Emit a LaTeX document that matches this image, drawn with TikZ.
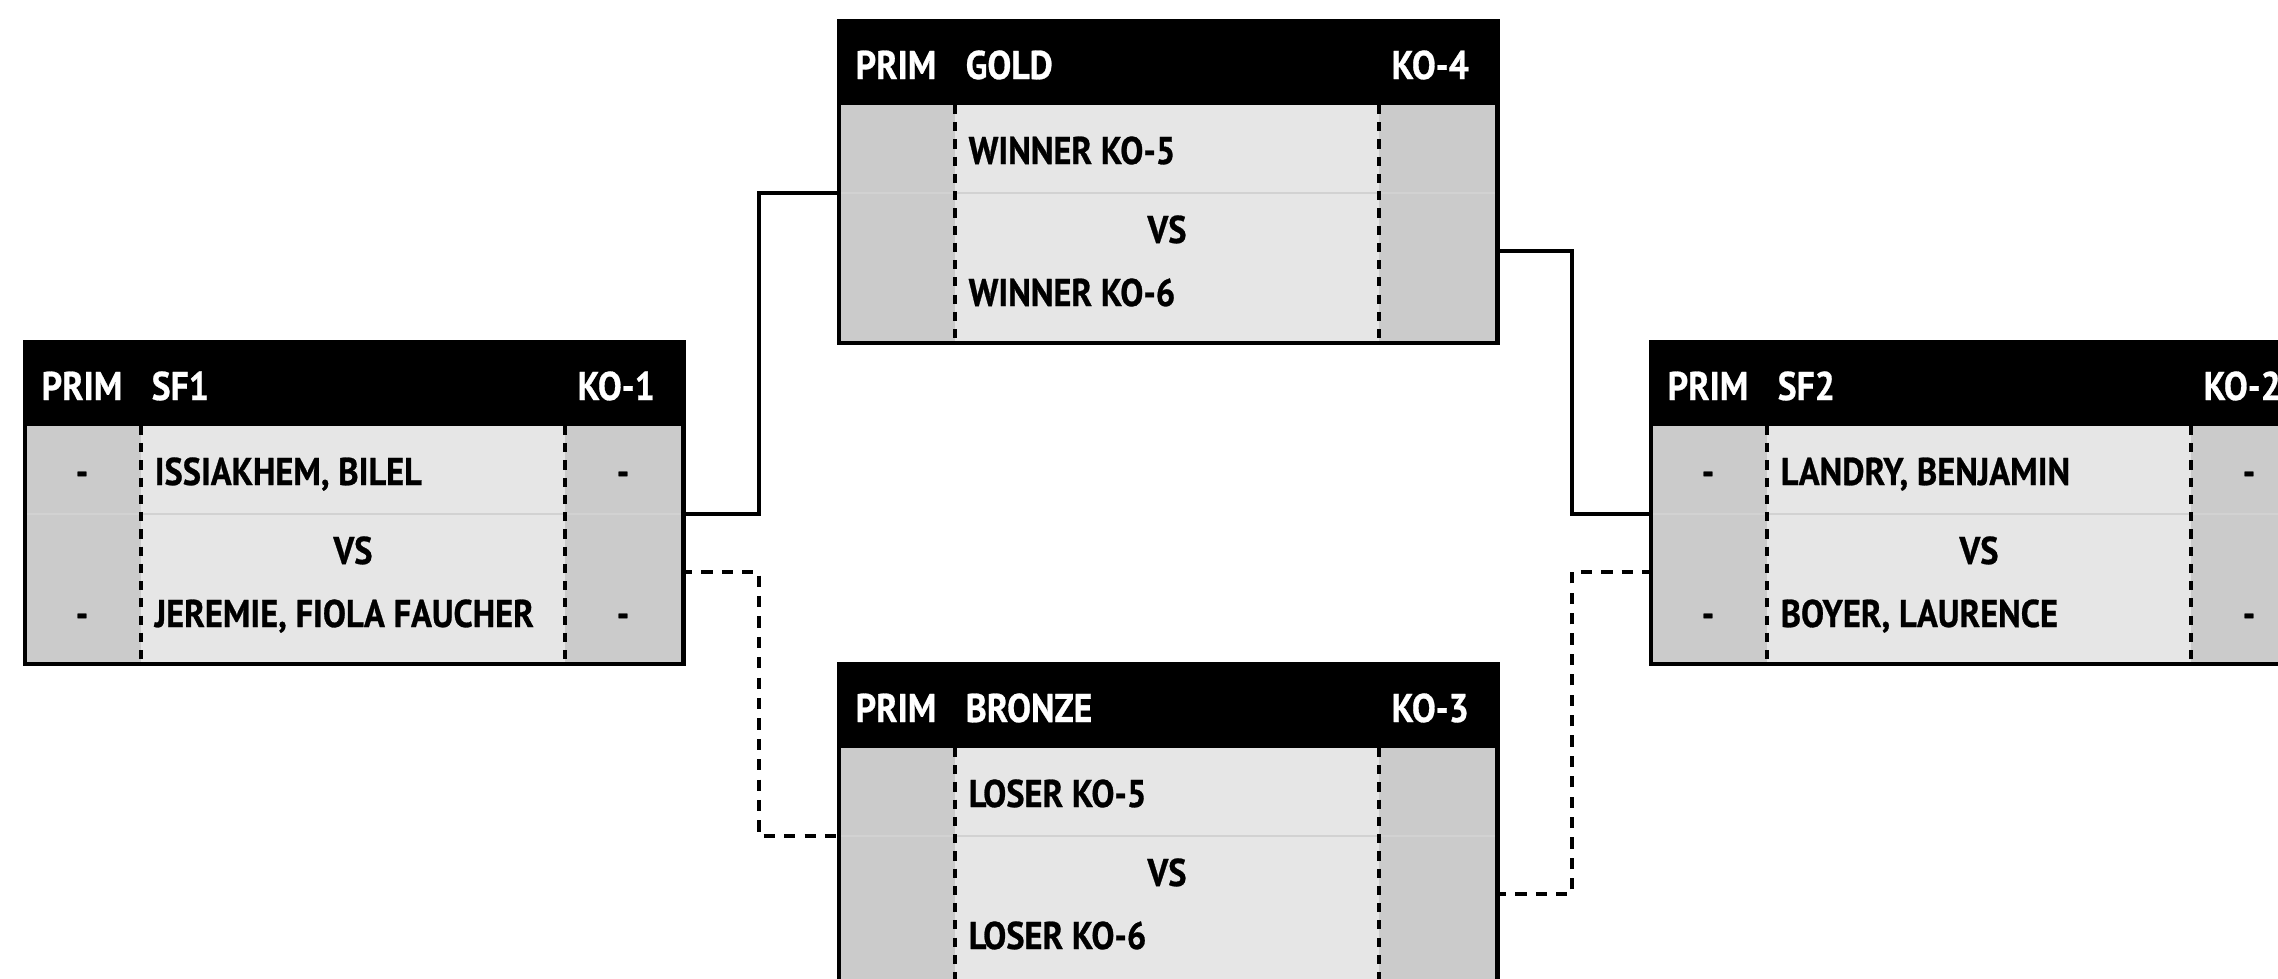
\documentclass[tikz,border=0pt]{standalone}
\usepackage{fontspec}
\setmainfont{PT Sans}[FakeStretch=0.89, BoldFeatures={FakeBold=0.7}]
\usetikzlibrary{calc}
\definecolor{colside}{HTML}{CBCBCB}
\definecolor{colmid}{HTML}{E6E6E6}
\definecolor{coldiv}{HTML}{D2D2D2}
\tikzset{
  boxframe/.style={draw=black, line width=1.2pt, inner sep=0pt, fill=none},
  hdr/.style={text=white, inner sep=0pt, font=\fontsize{11.4}{13}\selectfont\bfseries},
  txt/.style={text=black, inner sep=0pt, font=\fontsize{11}{13}\selectfont\bfseries},
  coldash/.style={draw=black, line width=1.2pt, dash pattern=on 2.6pt off 2.3pt},
  divline/.style={draw=coldiv, line width=0.6pt},
  wire/.style={draw=black, line width=1.05pt},
  wiredash/.style={draw=black, line width=1.05pt, dash pattern=on 3.2pt off 2.6pt},
}
% #1 name, #2 x, #3 y, #4 title, #5 ko, #6 player1, #7 player2, #8 mark
\newcommand\matchbox[8]{%
  \fill[colside] (#2,#3+86) rectangle (#2+118,#3+322);
  \fill[colmid] (#2+118,#3+86) rectangle (#2+542,#3+322);
  \fill[colside] (#2+542,#3+86) rectangle (#2+658,#3+322);
  \draw[divline] (#2,#3+174) -- (#2+658,#3+174);
  \draw[coldash] (#2+118,#3+86) -- (#2+118,#3+322);
  \draw[coldash] (#2+542,#3+86) -- (#2+542,#3+322);
  \fill[black] (#2,#3) rectangle (#2+658,#3+86);
  \node[boxframe, minimum width=6.58cm, minimum height=3.22cm, anchor=north west] (#1) at (#2,#3) {};
  \node[hdr, anchor=base] (#1-prim) at (#2+59,#3+60) {PRIM};
  \node[hdr, anchor=base west] (#1-title) at (#2+128,#3+60) {#4};
  \node[hdr, anchor=base west] (#1-ko) at (#2+554,#3+60) {#5};
  \node[txt, anchor=base] (#1-ma) at (#2+59,#3+145) {#8};
  \node[txt, anchor=base] (#1-mb) at (#2+59,#3+287) {#8};
  \node[txt, anchor=base] (#1-mc) at (#2+600,#3+145) {#8};
  \node[txt, anchor=base] (#1-md) at (#2+600,#3+287) {#8};
  \node[txt, anchor=base west] (#1-p1) at (#2+131,#3+145) {#6};
  \node[txt, anchor=base] (#1-vs) at (#2+330,#3+224) {VS};
  \node[txt, anchor=base west] (#1-p2) at (#2+131,#3+287) {#7};
  \coordinate (#1-L1) at (#2,#3+174);
  \coordinate (#1-L2) at (#2,#3+232);
  \coordinate (#1-R1) at (#2+658,#3+174);
  \coordinate (#1-R2) at (#2+658,#3+232);
}
\begin{document}
\begin{tikzpicture}[x=0.01cm,y=-0.01cm]
\clip (0,0) rectangle (2278,978);
\fill[white] (0,0) rectangle (2278,978);
\matchbox{sfa}{23}{340}{SF1}{KO-1}{ISSIAKHEM, BILEL}{JEREMIE, FIOLA FAUCHER}{-}
\matchbox{gold}{837}{19}{GOLD}{KO-4}{WINNER KO-5}{WINNER KO-6}{}
\matchbox{sfb}{1649}{340}{SF2}{KO-2}{LANDRY, BENJAMIN}{BOYER, LAURENCE}{-}
\matchbox{bronze}{837}{662}{BRONZE}{KO-3}{LOSER KO-5}{LOSER KO-6}{}
\draw[wire] (sfa-R1) -| ($(sfa-R1)!0.5!(gold-L1)$) |- (gold-L1);
\draw[wiredash] (sfa-R2) -| ($(sfa-R2)!0.5!(bronze-L1)$) |- (bronze-L1);
\draw[wire] (gold-R2) -| ($(gold-R2)!0.5!(sfb-L1)$) |- (sfb-L1);
\draw[wiredash] (bronze-R2) -| ($(bronze-R2)!0.5!(sfb-L2)$) |- (sfb-L2);
\end{tikzpicture}
\end{document}
